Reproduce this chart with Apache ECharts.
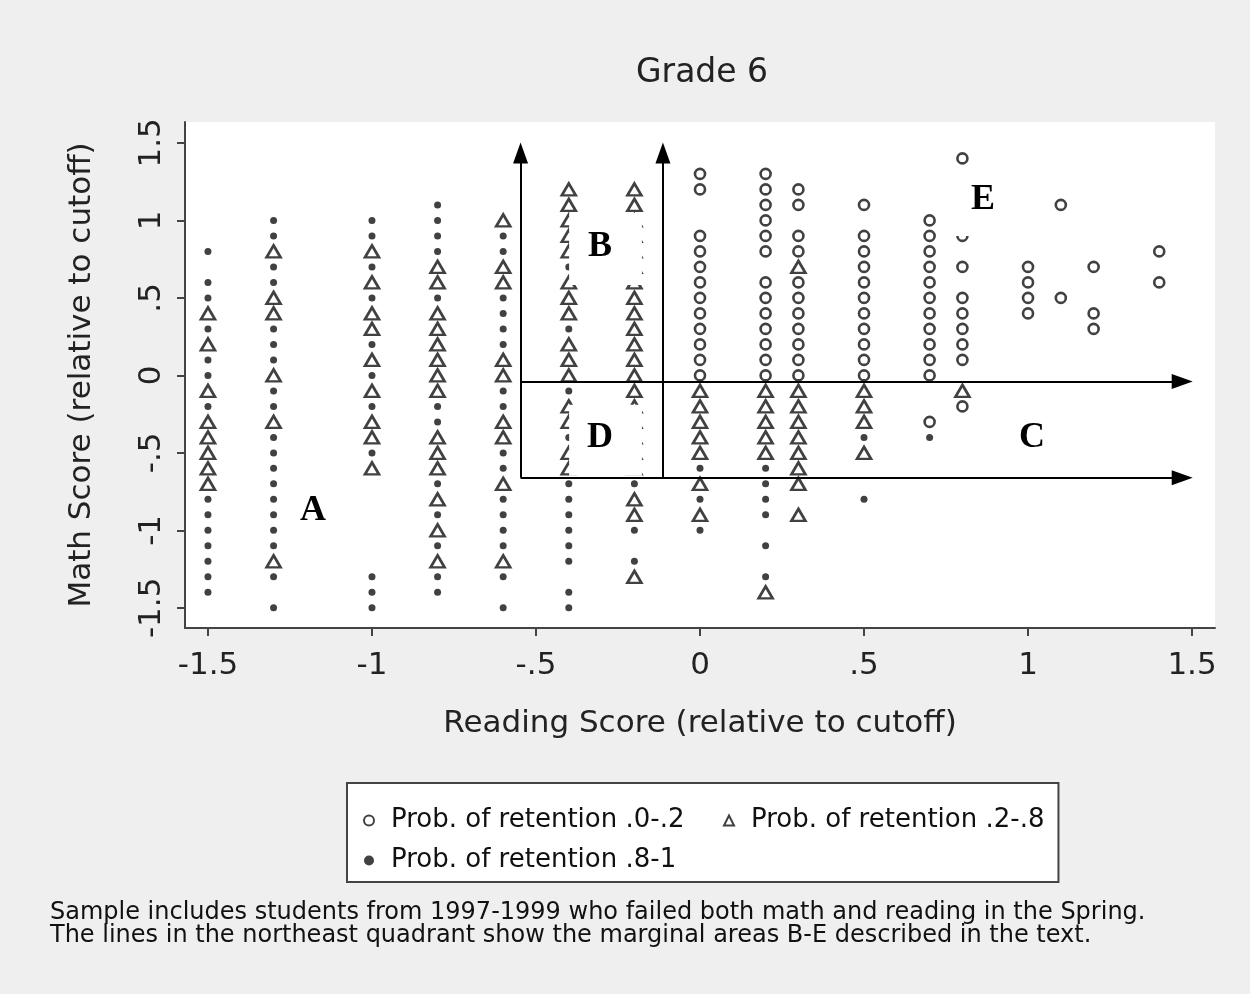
<!DOCTYPE html>
<html>
<head>
<meta charset="utf-8">
<script src="https://cdn.jsdelivr.net/npm/echarts@6/dist/echarts.min.js"></script>
<style>
  html, body { margin: 0; padding: 0; background: #efefef; }
  #chart { width: 1250px; height: 994px; }
</style>
</head>
<body>
<div id="chart"></div>
<script>
// reading score columns (x)
const readingScores = [-1.5, -1.3, -1, -0.8, -0.6, -0.4, -0.2, 0, 0.2, 0.3, 0.5, 0.7, 0.8, 1, 1.1, 1.2, 1.4]

// math scores per column, one list per reading score
const lowRetention = [
  [], [], [], [], [], [], [],
  [1.3, 1.2, 0.9, 0.8, 0.7, 0.6, 0.5, 0.4, 0.3, 0.2, 0.1, 0],
  [1.3, 1.2, 1.1, 1, 0.9, 0.8, 0.6, 0.5, 0.4, 0.3, 0.2, 0.1, 0],
  [1.2, 1.1, 0.9, 0.8, 0.6, 0.5, 0.4, 0.3, 0.2, 0.1, 0],
  [1.1, 0.9, 0.8, 0.7, 0.6, 0.5, 0.4, 0.3, 0.2, 0.1, 0],
  [1, 0.9, 0.8, 0.7, 0.6, 0.5, 0.4, 0.3, 0.2, 0.1, 0, -0.3],
  [1.4, 0.9, 0.7, 0.5, 0.4, 0.3, 0.2, 0.1, -0.2],
  [0.7, 0.6, 0.5, 0.4],
  [1.1, 0.5],
  [0.7, 0.4, 0.3],
  [0.8, 0.6]
]
const midRetention = [
  [0.4, 0.2, -0.1, -0.3, -0.4, -0.5, -0.6, -0.7],
  [0.8, 0.5, 0.4, 0, -0.3, -1.2],
  [0.8, 0.6, 0.4, 0.3, 0.1, -0.1, -0.3, -0.4, -0.6],
  [0.7, 0.6, 0.4, 0.3, 0.2, 0.1, 0, -0.1, -0.4, -0.5, -0.6, -0.8, -1, -1.2],
  [1, 0.7, 0.6, 0.1, 0, -0.3, -0.4, -0.7, -1.2],
  [1.2, 1.1, 1, 0.9, 0.8, 0.6, 0.5, 0.4, 0.2, 0.1, 0, -0.2, -0.3, -0.5, -0.6],
  [1.2, 1.1, 1, 0.9, 0.8, 0.7, 0.6, 0.5, 0.4, 0.3, 0.2, 0.1, 0, -0.1, -0.2, -0.3, -0.4, -0.5, -0.6, -0.8, -0.9, -1.3],
  [-0.1, -0.2, -0.3, -0.4, -0.5, -0.7, -0.9],
  [-0.1, -0.2, -0.3, -0.4, -0.5, -1.4],
  [0.7, -0.1, -0.2, -0.3, -0.4, -0.5, -0.6, -0.7, -0.9],
  [-0.1, -0.2, -0.3, -0.5],
  [],
  [-0.1],
  [], [], [], []
]
const highRetention = [
  [0.8, 0.6, 0.5, 0.3, 0.1, 0, -0.2, -0.8, -0.9, -1, -1.1, -1.2, -1.3, -1.4],
  [1, 0.9, 0.7, 0.6, 0.3, 0.2, 0.1, -0.1, -0.2, -0.4, -0.5, -0.6, -0.7, -0.8, -0.9, -1, -1.1, -1.3, -1.5],
  [1, 0.9, 0.7, 0.5, 0.2, 0, -0.2, -0.5, -1.3, -1.4, -1.5],
  [1.1, 1, 0.9, 0.8, 0.5, -0.2, -0.3, -0.7, -0.9, -1.1, -1.3, -1.4],
  [0.9, 0.8, 0.5, 0.4, 0.3, 0.2, -0.1, -0.2, -0.5, -0.6, -0.8, -0.9, -1, -1.1, -1.3, -1.5],
  [0.7, 0.3, -0.1, -0.4, -0.7, -0.8, -0.9, -1, -1.1, -1.2, -1.4, -1.5],
  [-0.7, -1, -1.2],
  [-0.6, -0.8, -1],
  [-0.6, -0.7, -0.8, -0.9, -1.1, -1.3],
  [],
  [-0.4, -0.8],
  [-0.4],
  [], [], [], [], []
]

const seriesNames = ['Prob. of retention .0-.2', 'Prob. of retention .2-.8', 'Prob. of retention .8-1']
const xTicks = [-1.5, -1, -0.5, 0, 0.5, 1, 1.5]
const yTicks = [-1.5, -1, -0.5, 0, 0.5, 1, 1.5]

// marginal-area guide lines (data units)
const guideX = [-0.547, -0.113]
const guideY = [-0.04, -0.661]
const arrowTopY = 1.435
const arrowRightX = 1.47

const footnote = 'Sample includes students from 1997-1999 who failed both math and reading in the Spring.\n' +
  'The lines in the northeast quadrant show the marginal areas B-E described in the text.'

const toPoints = cols => readingScores.flatMap((x, i) => (cols[i] || []).map(y => [x, y]))
const fmt = v => String(Math.round(v * 10) / 10).replace('0.', '.')
const ink = '#111'
const font = 'DejaVu Sans'

const chart = echarts.init(document.getElementById('chart'), null, { renderer: 'canvas' })

const arrowData = [
  [{ coord: [guideX[0], guideY[1]] }, { coord: [guideX[0], arrowTopY] }],
  [{ coord: [guideX[1], guideY[1]] }, { coord: [guideX[1], arrowTopY] }],
  [{ coord: [guideX[0], guideY[0]] }, { coord: [arrowRightX, guideY[0]] }],
  [{ coord: [guideX[0], guideY[1]] }, { coord: [arrowRightX, guideY[1]] }]
]

const axisCommon = {
  type: 'value',
  splitLine: { show: false },
  axisLine: { show: true, onZero: false, lineStyle: { color: '#444', width: 2 } },
  axisTick: { show: true, length: 8, lineStyle: { color: '#444', width: 2 } },
  nameLocation: 'middle',
  nameTextStyle: { fontFamily: font, fontSize: 31, color: '#222' }
}

const option = {
  backgroundColor: '#efefef',
  animation: false,
  title: [
    {
      text: 'Grade 6',
      left: 636,
      top: 57,
      padding: 0,
      textStyle: { fontFamily: font, fontSize: 33, fontWeight: 'normal', color: '#222' }
    },
    {
      text: footnote,
      left: 50,
      top: 901,
      padding: 0,
      textStyle: { fontFamily: font, fontSize: 24, lineHeight: 23, fontWeight: 'normal', color: '#111' }
    }
  ],
  grid: {
    left: 185, right: 35, top: 122, bottom: 366,
    show: true, backgroundColor: '#ffffff', borderWidth: 0
  },
  xAxis: Object.assign({}, axisCommon, {
    min: -1.57,
    max: 1.57,
    name: 'Reading Score (relative to cutoff)',
    nameGap: 80,
    axisTick: Object.assign({}, axisCommon.axisTick, { customValues: xTicks }),
    axisLabel: {
      customValues: xTicks, formatter: fmt, margin: 22,
      fontFamily: font, fontSize: 31, color: '#222'
    }
  }),
  yAxis: Object.assign({}, axisCommon, {
    min: -1.63,
    max: 1.635,
    name: 'Math Score (relative to cutoff)',
    nameGap: 88,
    axisTick: Object.assign({}, axisCommon.axisTick, { customValues: yTicks }),
    axisLabel: {
      customValues: yTicks, formatter: fmt, margin: 18, rotate: 90,
      fontFamily: font, fontSize: 31, color: '#222'
    }
  }),
  legend: {
    left: 347,
    top: 783,
    width: 720,
    orient: 'horizontal',
    padding: [24, 14, 8, 16],
    backgroundColor: '#ffffff',
    borderColor: '#444',
    borderWidth: 2,
    itemWidth: 10,
    itemHeight: 10,
    itemGap: 13,
    textStyle: { fontFamily: font, fontSize: 26, color: '#111', lineHeight: 27, padding: [0, 0, 0, 12] },
    data: [
      { name: seriesNames[0], textStyle: { width: 319 } },
      { name: seriesNames[1], textStyle: { width: 285 } },
      { name: seriesNames[2], textStyle: { width: 285 } }
    ]
  },
  series: [
    {
      name: seriesNames[0],
      type: 'scatter',
      symbol: 'circle',
      symbolSize: 10,
      itemStyle: { color: '#fff', borderColor: ink, borderWidth: 2.6 },
      emphasis: { disabled: true },
      data: toPoints(lowRetention)
    },
    {
      name: seriesNames[1],
      type: 'scatter',
      symbol: 'triangle',
      symbolSize: [14, 12],
      itemStyle: { color: '#fff', borderColor: ink, borderWidth: 2.6 },
      emphasis: { disabled: true },
      data: toPoints(midRetention)
    },
    {
      name: seriesNames[2],
      type: 'scatter',
      symbol: 'circle',
      symbolSize: 7,
      itemStyle: { color: ink },
      emphasis: { disabled: true },
      data: toPoints(highRetention),
      markLine: {
        silent: true,
        symbol: ['none', 'triangle'],
        symbolSize: [15, 21],
        label: { show: false },
        lineStyle: { color: '#000', width: 2, type: 'solid' },
        emphasis: { disabled: true },
        data: arrowData
      }
    }
  ]
}

chart.setOption(option)

// white label boxes and letters, placed in data units
const boxes = [
  { from: [-0.399, 1.048], to: [-0.177, 0.584] },
  { from: [-0.399, -0.19], to: [-0.177, -0.648] },
  { from: [0.762, 1.294], to: [0.96, 0.9] }
]
const letters = [
  { text: 'A', at: [-1.18, -0.874] },
  { text: 'B', at: [-0.305, 0.829] },
  { text: 'C', at: [1.012, -0.403] },
  { text: 'D', at: [-0.305, -0.403] },
  { text: 'E', at: [0.863, 1.132] }
]
const px = p => chart.convertToPixel({ gridIndex: 0 }, p)
const graphic = []
boxes.forEach(b => {
  const a = px(b.from)
  const c = px(b.to)
  graphic.push({
    type: 'rect', z: 50,
    shape: { x: a[0], y: a[1], width: c[0] - a[0], height: c[1] - a[1] },
    style: { fill: '#ffffff' }
  })
})
letters.forEach(l => {
  const p = px(l.at)
  graphic.push({
    type: 'text', z: 60,
    style: {
      text: l.text, x: p[0], y: p[1],
      font: 'bold 36px "Liberation Serif"', fill: '#000',
      align: 'center', verticalAlign: 'middle'
    }
  })
})
chart.setOption({ graphic: graphic })
</script>
</body>
</html>
